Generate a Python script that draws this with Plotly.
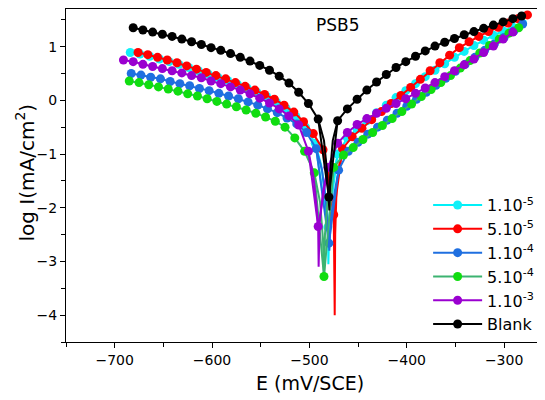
import plotly.graph_objects as go

# ---------------- data (E in mV/SCE, log I in mA/cm2) ----------------
names = ["1.10<sup>-5</sup>", "5.10<sup>-5</sup>", "1.10<sup>-4</sup>", "5.10<sup>-4</sup>", "1.10<sup>-3</sup>", "Blank"]

# 1.10-5 (cyan)
E_c1 = [-684, -674, -664, -654, -644, -634, -624, -614, -604, -594, -584, -574, -564, -554, -544, -534, -524, -514, -504, -494,
        -481,
        -471, -461, -451, -441, -431, -421, -411, -401, -391, -381, -371, -361, -351, -341, -331, -321, -311, -301, -291, -281]
L_c1 = [0.89, 0.86, 0.82, 0.77, 0.72, 0.67, 0.61, 0.55, 0.49, 0.43, 0.37, 0.30, 0.23, 0.15, 0.07, -0.03, -0.15, -0.30, -0.50, -0.80,
        -2.36,
        -1.00, -0.70, -0.53, -0.38, -0.23, -0.09, 0.05, 0.18, 0.31, 0.44, 0.56, 0.68, 0.80, 0.91, 1.02, 1.12, 1.21, 1.29, 1.36, 1.43]
E_c1_tip = [-494, -488, -484, -481, -480.5, -479.5, -477, -471]
L_c1_tip = [-0.80, -1.20, -1.70, -2.36, -3.05, -2.30, -1.60, -1.00]

# 5.10-5 (red)
E_c2 = [-676, -666, -656, -646, -636, -626, -616, -606, -596, -586, -576, -566, -556, -546, -536, -526, -516, -506, -496, -486,
        -475,
        -466, -456, -446, -436, -426, -416, -406, -396, -386, -376, -366, -356, -346, -336, -326, -316, -306, -296, -286, -276]
L_c2 = [0.89, 0.85, 0.80, 0.75, 0.70, 0.64, 0.58, 0.52, 0.46, 0.40, 0.33, 0.26, 0.19, 0.11, 0.02, -0.09, -0.22, -0.40, -0.62, -0.92,
        -2.13,
        -0.90, -0.68, -0.52, -0.36, -0.21, -0.06, 0.09, 0.24, 0.39, 0.55, 0.70, 0.84, 0.98, 1.09, 1.19, 1.28, 1.36, 1.44, 1.52, 1.59]
E_c2_tip = [-486, -481, -477, -475, -474, -473.5, -472, -469, -466]
L_c2_tip = [-0.92, -1.30, -1.80, -2.13, -4.00, -2.50, -1.60, -1.15, -0.90]

# 1.10-4 (blue)
E_c3 = [-683, -673, -663, -653, -643, -633, -623, -613, -603, -593, -583, -573, -563, -553, -543, -533, -523, -513, -503, -493,
        -480,
        -470, -460, -450, -440, -430, -420, -410, -400, -390, -380, -370, -360, -350, -340, -330, -320, -310, -300, -290, -281]
L_c3 = [0.50, 0.47, 0.43, 0.40, 0.35, 0.31, 0.27, 0.22, 0.18, 0.13, 0.08, 0.03, -0.03, -0.09, -0.16, -0.23, -0.33, -0.44, -0.60, -0.90,
        -2.66,
        -1.30, -0.95, -0.78, -0.63, -0.50, -0.37, -0.24, -0.11, 0.02, 0.15, 0.28, 0.41, 0.54, 0.67, 0.80, 0.93, 1.05, 1.17, 1.29, 1.42]
E_c3_tip = [-493, -487, -483, -480, -479.5, -478, -474, -470]
L_c3_tip = [-0.90, -1.30, -1.90, -2.66, -2.80, -2.20, -1.70, -1.30]

# 5.10-4 (green)
E_c4 = [-685, -675, -665, -655, -645, -635, -625, -615, -605, -595, -585, -575, -565, -555, -545, -535, -525, -515, -505, -495,
        -485,
        -475, -465, -455, -445, -435, -425, -415, -405, -395, -385, -375, -365, -355, -345, -335, -325, -315, -305, -295, -285]
L_c4 = [0.36, 0.33, 0.29, 0.25, 0.21, 0.17, 0.12, 0.08, 0.03, -0.02, -0.07, -0.12, -0.18, -0.24, -0.31, -0.39, -0.50, -0.70, -0.95, -1.35,
        -3.28,
        -1.25, -1.02, -0.88, -0.73, -0.60, -0.47, -0.34, -0.21, -0.07, 0.07, 0.20, 0.33, 0.46, 0.60, 0.74, 0.88, 1.02, 1.14, 1.25, 1.35]
E_c4_tip = [-495, -489, -486, -485, -484, -481, -475]
L_c4_tip = [-1.35, -1.90, -2.60, -3.28, -2.50, -1.80, -1.25]

# 1.10-3 (purple)
E_c5 = [-691, -681, -671, -661, -651, -641, -631, -621, -611, -601, -591, -581, -571, -561, -551, -541, -531, -521, -511, -501,
        -491,
        -481, -471, -461, -451, -441, -431, -421, -411, -401, -391, -381, -371, -361, -351, -341, -331, -321, -311, -301, -291]
L_c5 = [0.75, 0.72, 0.67, 0.63, 0.59, 0.55, 0.51, 0.46, 0.42, 0.36, 0.31, 0.25, 0.19, 0.12, 0.04, -0.05, -0.16, -0.29, -0.46, -0.95,
        -2.35,
        -1.25, -0.80, -0.60, -0.45, -0.34, -0.24, -0.15, -0.06, 0.03, 0.13, 0.23, 0.33, 0.44, 0.55, 0.66, 0.77, 0.89, 1.01, 1.14, 1.27]
E_c5_tip = [-501, -496, -493, -491, -490.5, -489.5, -486, -481]
L_c5_tip = [-0.95, -1.40, -1.90, -2.35, -3.10, -2.30, -1.70, -1.25]

# Blank (black)
E_bl = [-681, -671, -661, -651, -641, -631, -621, -611, -601, -591, -581, -571, -561, -551, -541, -531, -521, -511, -501, -491,
        -480,
        -471, -461, -451, -441, -431, -421, -411, -401, -391, -381, -371, -361, -351, -341, -331, -321, -311, -301, -291, -282]
L_bl = [1.35, 1.31, 1.27, 1.23, 1.19, 1.14, 1.09, 1.04, 0.98, 0.93, 0.87, 0.80, 0.73, 0.65, 0.56, 0.45, 0.32, 0.15, -0.06, -0.35,
        -1.80,
        -0.38, -0.16, 0.02, 0.19, 0.34, 0.48, 0.61, 0.72, 0.82, 0.92, 1.01, 1.08, 1.15, 1.22, 1.28, 1.34, 1.40, 1.46, 1.52, 1.57]
E_bl_tip = [-491, -485, -482, -480, -479.5, -478.5, -476, -471]
L_bl_tip = [-0.35, -0.75, -1.30, -1.80, -2.05, -1.30, -0.75, -0.38]

x_ticks = [-700, -600, -500, -400, -300]
y_ticks = [-4, -3, -2, -1, 0, 1]

# ---------------- styles ----------------
series = [
    (names[0], E_c1, L_c1, E_c1_tip, L_c1_tip, "#00F0F8", "#10F0F8"),
    (names[1], E_c2, L_c2, E_c2_tip, L_c2_tip, "#FF0000", "#FF0000"),
    (names[2], E_c3, L_c3, E_c3_tip, L_c3_tip, "#1F6FE0", "#1F6FE0"),
    (names[3], E_c4, L_c4, E_c4_tip, L_c4_tip, "#3CB371", "#10DD10"),
    (names[4], E_c5, L_c5, E_c5_tip, L_c5_tip, "#9A00D0", "#9A00D0"),
    (names[5], E_bl, L_bl, E_bl_tip, L_bl_tip, "#000000", "#000000"),
]

FONT = "DejaVu Sans, sans-serif"
fig = go.Figure()
for name, ex, ly, etx, lty, lc, mc in series:
    fig.add_trace(go.Scatter(x=etx, y=lty, mode="lines", line=dict(color=lc, width=2),
                             showlegend=False, hoverinfo="skip"))
    fig.add_trace(go.Scatter(x=ex, y=ly, mode="lines+markers", name=name,
                             line=dict(color=lc, width=2),
                             marker=dict(color=mc, size=9, line=dict(width=0))))

fig.add_annotation(x=-471, y=1.40, text="PSB5", showarrow=False,
                   font=dict(family=FONT, size=17, color="black"))

# axis titles placed as annotations (paper coordinates)
fig.add_annotation(x=0.509, y=-0.123, xref="paper", yref="paper", text="E (mV/SCE)",
                   showarrow=False, xanchor="center", yanchor="middle",
                   font=dict(family=FONT, size=19, color="black"))
fig.add_annotation(x=-0.0856, y=0.509, xref="paper", yref="paper", text="log I(mA/cm<sup>2</sup>)",
                   showarrow=False, textangle=-90, xanchor="center", yanchor="middle",
                   font=dict(family=FONT, size=20, color="black"))

axis_common = dict(showline=True, linecolor="black", linewidth=1.3, ticks="outside",
                   ticklen=5, tickwidth=1.2, tickcolor="black", showgrid=False, zeroline=False,
                   automargin=False,
                   tickfont=dict(family=FONT, size=14, color="black"))

fig.update_xaxes(range=[-750, -258], tickvals=x_ticks, mirror=True,
                 minor=dict(dtick=50, ticks="outside", ticklen=4, tickcolor="black", tickwidth=1.2),
                 **axis_common)
fig.update_yaxes(range=[-4.5, 1.7], tickvals=y_ticks, mirror=False,
                 minor=dict(dtick=0.5, ticks="outside", ticklen=4, tickcolor="black", tickwidth=1.2),
                 **axis_common)

# the page body adds an 8px offset, so the figure is 8px smaller than the window
fig.update_layout(
    width=537, height=392,
    margin=dict(l=58, r=0, t=1, b=58),
    paper_bgcolor="white", plot_bgcolor="white",
    font=dict(family=FONT, color="black"),
    legend=dict(x=0.756, xanchor="left", y=0.462, yanchor="top",
                font=dict(family=FONT, size=16, color="black"),
                bgcolor="rgba(0,0,0,0)", itemwidth=49, tracegroupgap=0),
)

fig.write_html("out.html")
